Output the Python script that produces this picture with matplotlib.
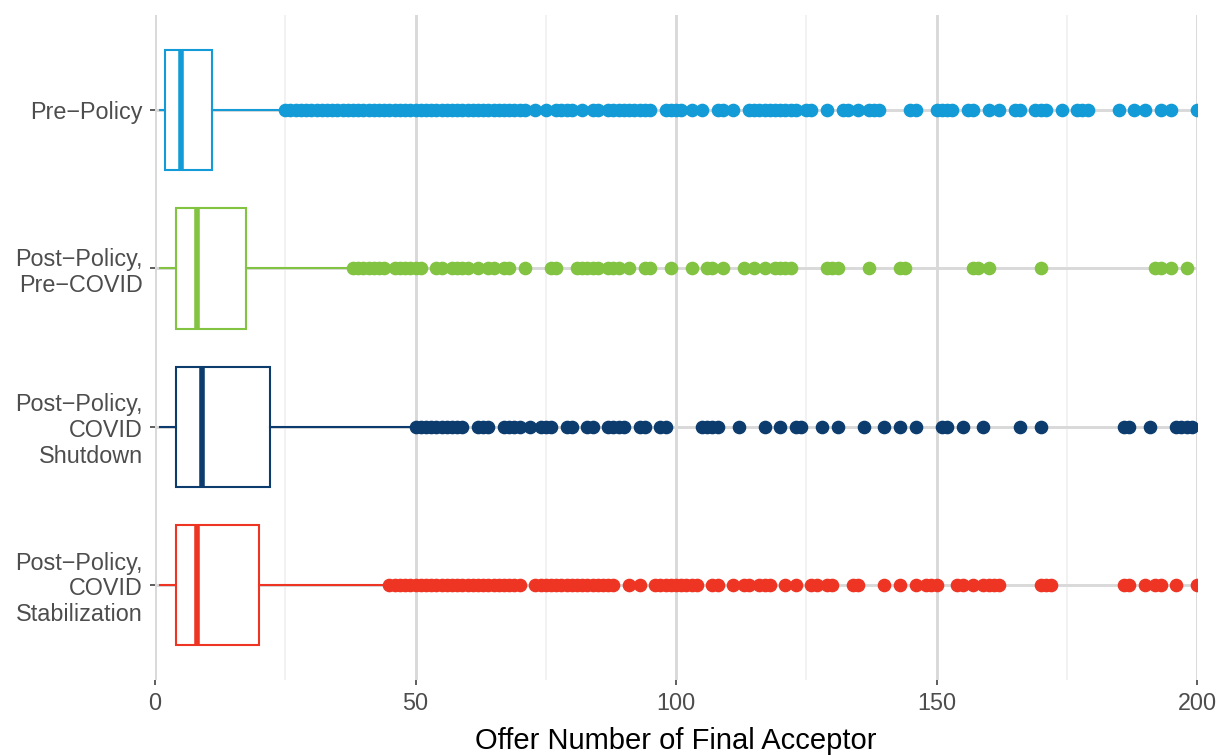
import matplotlib
matplotlib.use('Agg')
import matplotlib.pyplot as plt

plt.rcParams['font.family'] = ['Liberation Sans', 'DejaVu Sans']

# groups, top to bottom
groups = ['Pre\u2212Policy', 'Post\u2212Policy,\nPre\u2212COVID',
          'Post\u2212Policy,\nCOVID\nShutdown', 'Post\u2212Policy,\nCOVID\nStabilization']
colors = ['#139BD7', '#82C341', '#0C3C6E', '#EE3524']

# box statistics
whislo = [1, 1, 1, 1]
q1 = [2, 4, 4, 4]
med = [5, 8, 9, 8]
q3 = [11, 17.5, 22, 20]
whishi = [24, 37, 49, 44]

# outliers (offer numbers)
pre_policy_out = (list(range(25, 72)) + [73, 75, 77, 78, 79, 80, 82, 84, 85]
                  + list(range(87, 96))
                  + [98, 99, 100, 101, 103, 105, 108, 109, 111, 114, 115, 116, 117, 118,
                     119, 120, 121, 122, 123, 125, 126, 129, 132, 133, 135, 137, 138, 139,
                     145, 146, 150, 151, 152, 153, 156, 157, 160, 162, 165, 166, 169, 170,
                     171, 174, 177, 178, 179, 185, 188, 190, 193, 195, 200])
pre_covid_out = (list(range(38, 45)) + list(range(46, 52))
                 + [54, 55, 57, 58, 59, 60, 62, 64, 65, 67, 68, 71, 76, 77, 81, 82, 83, 84,
                    85, 87, 88, 89, 91, 94, 95, 99, 103, 106, 107, 109, 113, 115, 117, 119,
                    120, 121, 122, 129, 130, 131, 137, 143, 144, 157, 158, 160, 170, 192,
                    193, 195, 198])
shutdown_out = (list(range(50, 60))
                + [62, 63, 64, 67, 68, 69, 70, 72, 74, 75, 76, 79, 80, 83, 84, 87, 88, 89,
                   90, 93, 94, 97, 98, 105, 106, 107, 108, 112, 117, 120, 123, 124, 128, 131,
                   136, 140, 143, 146, 151, 152, 155, 159, 166, 170, 186, 187, 191, 196,
                   197, 198, 199])
stabilization_out = (list(range(45, 71)) + list(range(73, 89)) + [91, 93]
                     + list(range(96, 105))
                     + [107, 108, 111, 113, 114, 116, 117, 118, 121, 123, 126, 127, 129, 130,
                        134, 135, 140, 143, 146, 148, 149, 150, 154, 155, 157, 159, 160, 161,
                        162, 170, 171, 172, 186, 187, 190, 192, 193, 196, 200])
outliers = [pre_policy_out, pre_covid_out, shutdown_out, stabilization_out]

fig = plt.figure(figsize=(12.17, 7.55), dpi=100)
ax = fig.add_axes([155 / 1217, 1 - 680 / 755, (1197 - 155) / 1217, 665 / 755])

for i in range(len(groups)):
    c = colors[i]
    stats = [dict(whislo=whislo[i], q1=q1[i], med=med[i], q3=q3[i], whishi=whishi[i],
                  fliers=outliers[i])]
    ax.bxp(stats, positions=[i + 1], widths=0.76, orientation='horizontal',
           showcaps=False, showfliers=True, patch_artist=True,
           boxprops=dict(facecolor='white', edgecolor=c, linewidth=1.5),
           medianprops=dict(color=c, linewidth=4, solid_capstyle='butt'),
           whiskerprops=dict(color=c, linewidth=1.5),
           flierprops=dict(marker='o', markerfacecolor=c, markeredgecolor=c,
                           markersize=8.8, linestyle='none'),
           zorder=3)

ax.set_xlim(0, 200)
ax.set_ylim(4.6, 0.4)
ax.set_xticks([0, 50, 100, 150, 200])
ax.set_xticks([25, 75, 125, 175], minor=True)
ax.set_yticks(range(1, len(groups) + 1))
ax.set_yticklabels(groups, ha='right', multialignment='right', linespacing=1.15)

ax.grid(True, which='major', color='#D9D9D9', linewidth=2.1)
ax.grid(True, which='minor', axis='x', color='#F0F0F0', linewidth=1.2)
ax.set_axisbelow(True)
for s in ax.spines.values():
    s.set_visible(False)

ax.tick_params(which='major', direction='out', length=3.5, width=1.1, color='#333333',
               labelcolor='#4D4D4D', labelsize=16.8, pad=5.5)
ax.tick_params(which='minor', length=0)
ax.set_xlabel('Offer Number of Final Acceptor', fontsize=21, color='black', labelpad=8)

fig.savefig('out.png', dpi=100)
